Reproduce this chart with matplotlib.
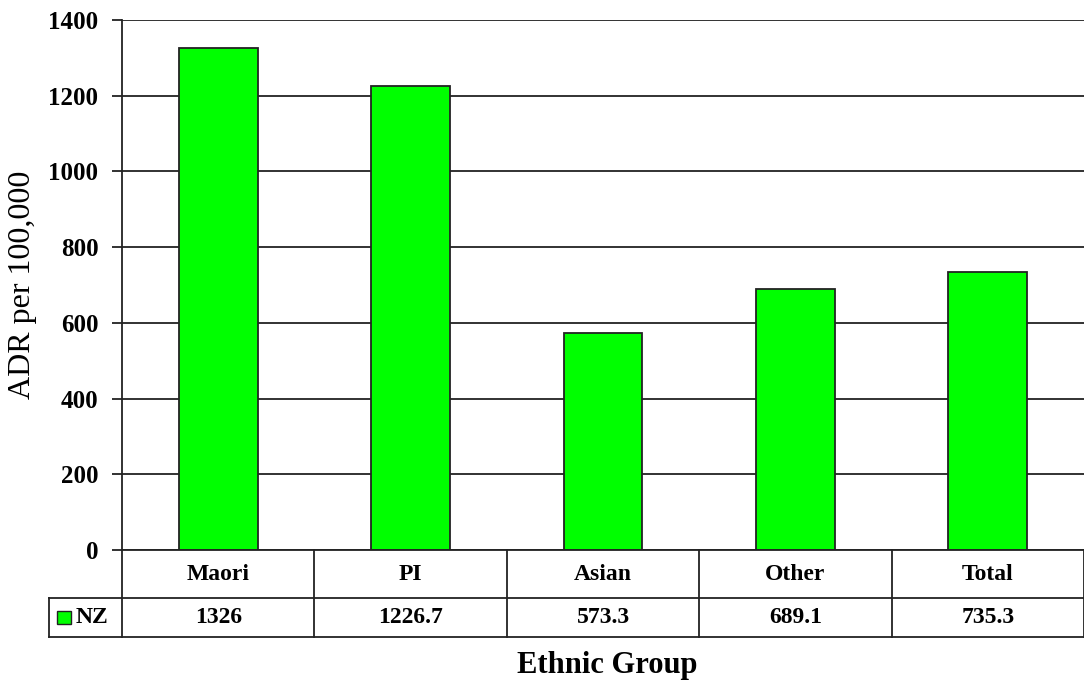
import numpy as np
import matplotlib as mpl
mpl.use('Agg')
import matplotlib.pyplot as plt
from matplotlib.patches import Rectangle
import matplotlib.transforms as mtransforms

groups = ['Maori', 'PI', 'Asian', 'Other', 'Total']
adr_nz = [1326, 1226.7, 573.3, 689.1, 735.3]
value_labels = ['1326', '1226.7', '573.3', '689.1', '735.3']
series_name = 'NZ'
yticks = [0, 200, 400, 600, 800, 1000, 1200, 1400]

green = '#00ff00'
line_col = '#222222'
plt.rcParams['font.family'] = ['Liberation Serif', 'DejaVu Serif']

fig = plt.figure(figsize=(10.84, 6.82), dpi=100)
ax = fig.add_axes([122/1084, 1 - 550/682, 1 - 122/1084, 530/682])

x = np.arange(len(groups))
ax.bar(x, adr_nz, width=0.41, color=green, edgecolor=line_col, lw=1.3, zorder=3)

ax.set_xlim(-0.5, len(groups) - 0.5)
ax.set_ylim(0, 1400)
ax.set_yticks(yticks)
ax.set_yticklabels([str(t) for t in yticks], fontsize=18, fontweight='bold')
ax.tick_params(axis='y', length=7, width=1.3, color=line_col, pad=10)
ax.set_xticks([])
ax.yaxis.grid(True, color=line_col, lw=1.3, zorder=0)
for side in ['top', 'right', 'bottom']:
    ax.spines[side].set_visible(False)
ax.spines['left'].set_color(line_col)
ax.spines['left'].set_linewidth(1.3)
ax.axhline(0, color=line_col, lw=1.3, zorder=4, clip_on=False)
ax.set_ylabel('ADR per 100,000', fontsize=23, labelpad=8)

# data table under the plot, rows in axes fraction below the x axis
trans = mtransforms.blended_transform_factory(ax.transData, ax.transAxes)
h1 = 48 / 530
h2 = 39 / 530
y_mid = -h1
y_bot = -h1 - h2
x0, x1 = -0.5, len(groups) - 0.5
x_leg = -0.5 - 73 / 192.4
kw = dict(color=line_col, lw=1.3, transform=trans, clip_on=False)
ax.plot([x0, x0], [0, y_bot], **kw)
ax.plot([x1, x1], [0, y_bot], **kw)
ax.plot([x_leg, x1], [y_mid, y_mid], **kw)
ax.plot([x_leg, x1], [y_bot, y_bot], **kw)
ax.plot([x_leg, x_leg], [y_mid, y_bot], **kw)
for b in x[:-1] + 0.5:
    ax.plot([b, b], [0, y_bot], **kw)
for xi, g, v in zip(x, groups, value_labels):
    ax.text(xi, -h1 / 2, g, transform=trans, ha='center', va='center',
            fontsize=17, fontweight='bold')
    ax.text(xi, y_mid - h2 / 2, v, transform=trans, ha='center', va='center',
            fontsize=17, fontweight='bold')

# legend key in the table's first column
sq_w = 14 / 192.4
sq_h = 13 / 530
ax.add_patch(Rectangle((x_leg + 8 / 192.4, y_mid - h2 / 2 - sq_h / 2), sq_w, sq_h,
                       facecolor=green, edgecolor=line_col, lw=1.0,
                       transform=trans, clip_on=False))
ax.text(x_leg + 27 / 192.4, y_mid - h2 / 2, series_name, transform=trans,
        ha='left', va='center', fontsize=17, fontweight='bold')

fig.text(607 / 1084, 1 - 665 / 682, 'Ethnic Group', ha='center', va='center',
         fontsize=22, fontweight='bold')

fig.savefig('out.png', dpi=100)
